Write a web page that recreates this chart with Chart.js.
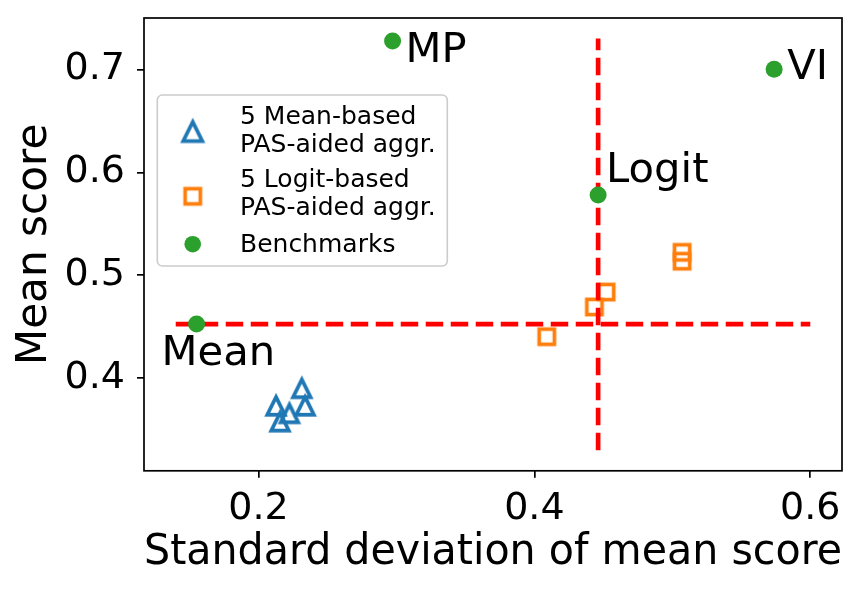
<!DOCTYPE html>
<html>
<head>
<meta charset="utf-8">
<script src="https://cdn.jsdelivr.net/npm/chart.js@4.4.0/dist/chart.umd.min.js"></script>
<style>
html, body { margin: 0; padding: 0; background: #fff; overflow: hidden; }
canvas { display: block; }
</style>
</head>
<body>
<canvas id="grafica" width="861" height="589"></canvas>
<script>
// 5 mean-based PAS-aided aggregations
const meanAggStd = [0.2314, 0.2338, 0.2224, 0.2127, 0.2156];
const meanAggScore = [0.3901, 0.3731, 0.3658, 0.3731, 0.3577];

// 5 logit-based PAS-aided aggregations
const logitAggStd = [0.4090, 0.4435, 0.4520, 0.5071, 0.5071];
const logitAggScore = [0.4403, 0.4692, 0.4837, 0.5223, 0.5137];

// benchmarks
const benchNames = ['Mean', 'Logit', 'MP', 'VI'];
const benchStd = [0.1551, 0.4462, 0.2972, 0.5738];
const benchScore = [0.4526, 0.5780, 0.7276, 0.7001];

// dashed reference lines (Mean score / Logit std)
const hLineX = [0.14, 0.60];
const vLineY = [0.33, 0.73];

const xTicks = [0.2, 0.4, 0.6];
const yTicks = [0.4, 0.5, 0.6, 0.7];

const fuente = 'DejaVu Sans';
const azul = '#1f77b4';
const naranja = '#ff7f0e';
const verde = '#2ca02c';

function triangulo(color, h) {
    const c = document.createElement('canvas');
    c.width = 34; c.height = 34;
    const g = c.getContext('2d');
    g.strokeStyle = color;
    g.lineWidth = 3.7;
    g.lineJoin = 'miter';
    g.beginPath();
    g.moveTo(17, 17 - h);
    g.lineTo(17 + h, 17 + h);
    g.lineTo(17 - h, 17 + h);
    g.closePath();
    g.stroke();
    return c;
}

function cuadrado(color) {
    const c = document.createElement('canvas');
    c.width = 34; c.height = 34;
    const g = c.getContext('2d');
    g.strokeStyle = color;
    g.lineWidth = 3.7;
    g.strokeRect(17 - 7.6, 17 - 7.6, 15.2, 15.2);
    return c;
}

const marcaTri = triangulo(azul, 8.8);
const marcaTriLey = triangulo(azul, 9.6);
const marcaCuad = cuadrado(naranja);

// offsets of the benchmark names from their dot (px)
const desplaz = { Mean: [-35, 41], Logit: [8, -13], MP: [13, 21], VI: [13, 10] };

const marco = {
    id: 'marco',
    afterDatasetsDraw(chart) {
        const { ctx, chartArea: a } = chart;
        ctx.save();
        ctx.strokeStyle = '#000';
        ctx.lineWidth = 1.7;
        ctx.strokeRect(a.left, a.top, a.right - a.left, a.bottom - a.top);

        // benchmark names
        const meta = chart.getDatasetMeta(0);
        ctx.font = '41.7px "' + fuente + '"';
        ctx.fillStyle = '#000';
        ctx.textBaseline = 'alphabetic';
        ctx.textAlign = 'left';
        benchNames.forEach(function (n, i) {
            const p = meta.data[i];
            ctx.fillText(n, p.x + desplaz[n][0], p.y + desplaz[n][1]);
        });
        ctx.restore();
    }
};

const leyenda = {
    id: 'leyenda',
    afterDraw(chart) {
        const ctx = chart.ctx;
        const x0 = 157.3, y0 = 95, w = 290, h = 171;
        ctx.save();
        ctx.beginPath();
        ctx.roundRect(x0, y0, w, h, 5);
        ctx.fillStyle = 'rgba(255,255,255,0.8)';
        ctx.fill();
        ctx.strokeStyle = '#cccccc';
        ctx.lineWidth = 1.6;
        ctx.stroke();

        ctx.drawImage(marcaTriLey, 192.7 - 17, 131.5 - 17);
        ctx.drawImage(marcaCuad, 192.7 - 17, 196.3 - 17);
        ctx.beginPath();
        ctx.arc(192.7, 244.2, 8.3, 0, Math.PI * 2);
        ctx.fillStyle = verde;
        ctx.fill();

        ctx.font = '25px "' + fuente + '"';
        ctx.fillStyle = '#000';
        ctx.textBaseline = 'alphabetic';
        ctx.textAlign = 'left';
        ctx.fillText('5 Mean-based', 240, 124.3);
        ctx.fillText('PAS-aided aggr.', 240, 151.7);
        ctx.fillText('5 Logit-based', 240, 187.3);
        ctx.fillText('PAS-aided aggr.', 240, 215);
        ctx.fillText('Benchmarks', 240, 251.7);
        ctx.restore();
    }
};

const ctx = document.getElementById('grafica').getContext('2d');
const grafico = new Chart(ctx, {
    type: 'scatter',
    data: {
        datasets: [
            {
                label: 'Benchmarks',
                data: benchStd.map((x, i) => ({ x: x, y: benchScore[i] })),
                pointStyle: 'circle',
                pointRadius: 8.5,
                backgroundColor: verde,
                borderWidth: 0,
                order: 0
            },
            {
                label: 'hline',
                data: hLineX.map(x => ({ x: x, y: benchScore[0] })),
                showLine: true,
                borderColor: '#ff0000',
                borderWidth: 4.7,
                borderDash: [17.5, 7.5],
                pointRadius: 0,
                order: 1
            },
            {
                label: 'vline',
                data: vLineY.map(y => ({ x: benchStd[1], y: y })),
                showLine: true,
                borderColor: '#ff0000',
                borderWidth: 4.7,
                borderDash: [17.5, 7.5],
                pointRadius: 0,
                order: 1
            },
            {
                label: '5 Logit-based PAS-aided aggr.',
                data: logitAggStd.map((x, i) => ({ x: x, y: logitAggScore[i] })),
                pointStyle: marcaCuad,
                order: 2
            },
            {
                label: '5 Mean-based PAS-aided aggr.',
                data: meanAggStd.map((x, i) => ({ x: x, y: meanAggScore[i] })),
                pointStyle: marcaTri,
                order: 3
            }
        ]
    },
    options: {
        responsive: false,
        animation: false,
        events: [],
        layout: { padding: { left: 0, top: 18, right: 19, bottom: 0 } },
        plugins: { legend: { display: false }, tooltip: { enabled: false } },
        scales: {
            x: {
                type: 'linear',
                min: 0.117,
                max: 0.623,
                afterFit: s => {
                    s.height = 589 - 470.8;
                    s.paddingLeft = 0; s.paddingRight = 0;
                },
                afterBuildTicks: s => { s.ticks = xTicks.map(v => ({ value: v })); },
                grid: { drawOnChartArea: false, drawTicks: true, tickLength: 7, color: '#000', lineWidth: 1.7 },
                border: { display: false },
                ticks: {
                    font: { family: fuente, size: 38 },
                    color: '#000',
                    padding: 9,
                    maxRotation: 0,
                    callback: v => Number(v).toFixed(1)
                },
                title: {
                    display: true,
                    text: 'Standard deviation of mean score',
                    font: { family: fuente, size: 42.6, lineHeight: 1.2 },
                    color: '#000',
                    padding: { top: 0, bottom: 10.2 }
                }
            },
            y: {
                type: 'linear',
                min: 0.31,
                max: 0.75,
                afterFit: s => {
                    s.width = 144;
                    s.paddingTop = 0; s.paddingBottom = 0;
                },
                afterBuildTicks: s => { s.ticks = yTicks.map(v => ({ value: v })); },
                grid: { drawOnChartArea: false, drawTicks: true, tickLength: 7, color: '#000', lineWidth: 1.7 },
                border: { display: false },
                ticks: {
                    font: { family: fuente, size: 38 },
                    color: '#000',
                    padding: 12,
                    callback: v => Number(v).toFixed(1)
                },
                title: {
                    display: true,
                    text: 'Mean score',
                    font: { family: fuente, size: 42.2, lineHeight: 1.2 },
                    color: '#000',
                    padding: { top: 9.6, bottom: 0 }
                }
            }
        }
    },
    plugins: [marco, leyenda]
});
</script>
</body>
</html>
